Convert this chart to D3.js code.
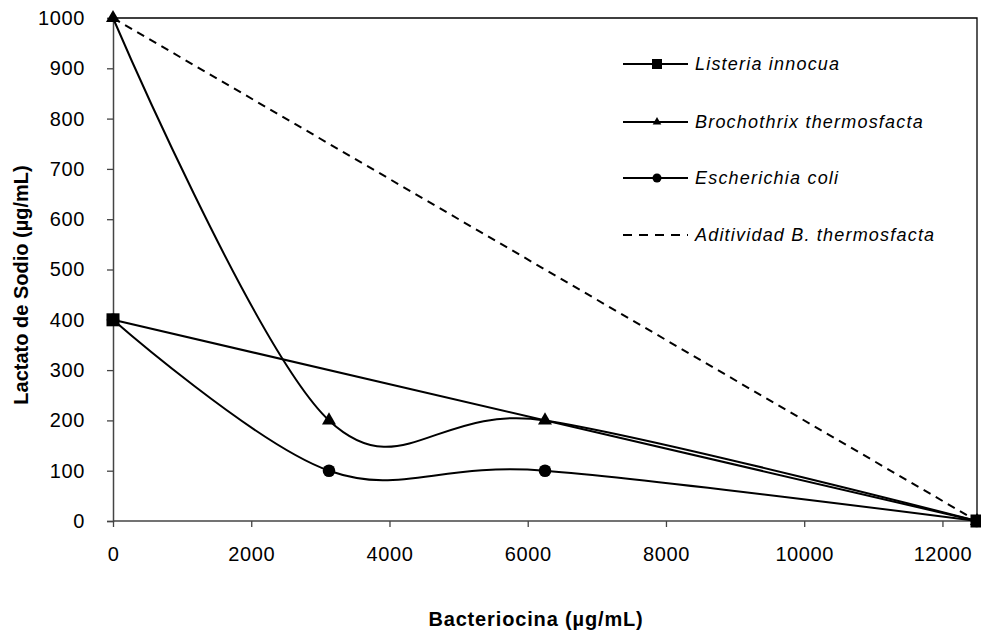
<!DOCTYPE html>
<html>
<head>
<meta charset="utf-8">
<script src="https://cdn.jsdelivr.net/npm/d3@7"></script>
<style>
  body { margin: 0; background: #fff; }
  text { font-family: Arial, "Liberation Sans", sans-serif; fill: #000; }
</style>
</head>
<body>
<svg width="981" height="639"></svg>
<script>
// data
const bacteriocina = [0, 3125, 6250, 12500];
const listeria = [{ x: 0, y: 400 }, { x: 12500, y: 0 }];
const brochothrix = [1000, 200, 200, 0];
const ecoli = [400, 100, 100, 0];
const aditividad = [{ x: 0, y: 1000 }, { x: 12500, y: 0 }];
const xTicks = [0, 2000, 4000, 6000, 8000, 10000, 12000];
const yTicks = [0, 100, 200, 300, 400, 500, 600, 700, 800, 900, 1000];
const legendNames = ['Listeria innocua', 'Brochothrix thermosfacta', 'Escherichia coli', 'Aditividad B. thermosfacta'];

const svg = d3.select('svg');
const m = { left: 113, right: 977, top: 18, bottom: 521 };

const x = d3.scaleLinear().domain([0, 12500]).range([m.left, m.right]);
const y = d3.scaleLinear().domain([0, 1000]).range([m.bottom, m.top]);

// plot frame (top and right)
svg.append('path')
  .attr('d', `M${m.left},${m.top}H${m.right}V${m.bottom}`)
  .attr('fill', 'none').attr('stroke', '#000').attr('stroke-width', 1.3);

const xAxis = svg.append('g')
  .attr('transform', `translate(0,${m.bottom})`)
  .call(d3.axisBottom(x).tickValues(xTicks).tickSize(6).tickPadding(20).tickFormat(d3.format('d')));
const yAxis = svg.append('g')
  .attr('transform', `translate(${m.left},0)`)
  .call(d3.axisLeft(y).tickValues(yTicks).tickSize(6).tickPadding(22).tickFormat(d3.format('d')));

[xAxis, yAxis].forEach(a => {
  a.select('.domain').attr('stroke', '#444').attr('stroke-width', 1.5);
  a.selectAll('.tick line').attr('stroke', '#444').attr('stroke-width', 1.3);
  a.selectAll('.tick text').style('font-size', '20px').style('letter-spacing', '0.6px').attr('fill', '#000');
});
xAxis.select('.domain').attr('d', `M${m.left},0H${m.right}`);

const toPts = vals => vals.map((v, i) => ({ x: bacteriocina[i], y: v }));
const smooth = d3.line().x(d => x(d.x)).y(d => y(d.y)).curve(d3.curveCatmullRom.alpha(0));
const straight = d3.line().x(d => x(d.x)).y(d => y(d.y));

svg.append('path').attr('d', straight(aditividad))
  .attr('fill', 'none').attr('stroke', '#000').attr('stroke-width', 2).attr('stroke-dasharray', '8,6');
svg.append('path').attr('d', straight(listeria))
  .attr('fill', 'none').attr('stroke', '#000').attr('stroke-width', 2);
svg.append('path').attr('d', smooth(toPts(brochothrix)))
  .attr('fill', 'none').attr('stroke', '#000').attr('stroke-width', 2);
svg.append('path').attr('d', smooth(toPts(ecoli)))
  .attr('fill', 'none').attr('stroke', '#000').attr('stroke-width', 2);

// markers
svg.selectAll('.tri').data(toPts(brochothrix)).enter().append('path')
  .attr('transform', d => `translate(${x(d.x)},${y(d.y)})`)
  .attr('d', d3.symbol(d3.symbolTriangle, 85));
svg.selectAll('.circ').data(toPts(ecoli)).enter().append('circle')
  .attr('cx', d => x(d.x)).attr('cy', d => y(d.y)).attr('r', 6.3);
svg.selectAll('.sq').data(listeria).enter().append('rect')
  .attr('x', d => x(d.x) - 6.5).attr('y', d => y(d.y) - 6.5)
  .attr('width', 13).attr('height', 13);

// legend
const legY = [64, 122, 178, 235];
const lg = svg.append('g');
legendNames.forEach((name, i) => {
  const g = lg.append('g').attr('transform', `translate(623,${legY[i]})`);
  g.append('line').attr('x1', 0).attr('x2', 65).attr('stroke', '#000').attr('stroke-width', 2)
    .attr('stroke-dasharray', i === 3 ? '9,7' : null);
  if (i === 0) g.append('rect').attr('x', 29).attr('y', -5).attr('width', 10).attr('height', 10);
  if (i === 1) g.append('path').attr('transform', 'translate(34,0)').attr('d', d3.symbol(d3.symbolTriangle, 32));
  if (i === 2) g.append('circle').attr('cx', 34).attr('r', 4.5);
  g.append('text').attr('x', 72).attr('dy', '0.36em')
    .style('font-size', '18px').style('letter-spacing', '1.2px').style('font-style', 'italic').text(name);
});

// axis titles
svg.append('text').attr('x', 536).attr('y', 626).attr('text-anchor', 'middle')
  .style('font-size', '20px').style('letter-spacing', '0.85px').style('font-weight', 'bold')
  .text('Bacteriocina (µg/mL)');
svg.append('text').attr('transform', 'translate(28,285) rotate(-90)').attr('text-anchor', 'middle')
  .style('font-size', '20px').style('font-weight', 'bold').text('Lactato de Sodio (µg/mL)');
</script>
</body>
</html>
